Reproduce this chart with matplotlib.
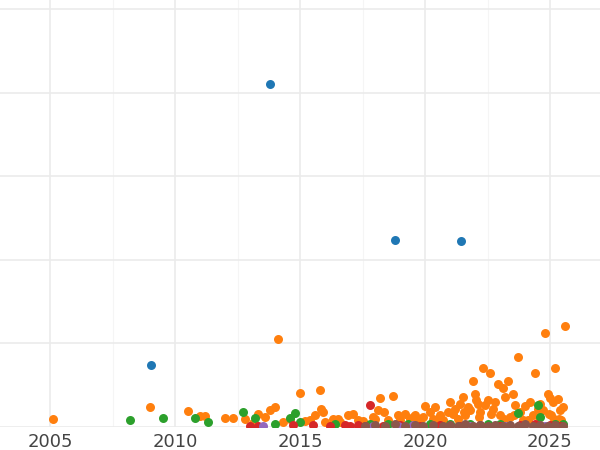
import matplotlib
matplotlib.use("Agg")
import matplotlib.pyplot as plt
from matplotlib.ticker import MultipleLocator, FuncFormatter

blue_x = [2013.8, 2018.8, 2021.45, 2009.05]
blue_y = [410, 224, 222, 74]

orange_x = [2005.1, 2009.0, 2010.5, 2011.0, 2011.2, 2012.0, 2012.3, 2012.8, 2013.3, 2013.6, 2013.8, 2014.0, 2014.1,
            2014.6, 2015.0, 2015.4, 2015.6, 2015.8, 2015.85, 2015.9, 2016.3, 2016.6, 2016.9, 2017.1, 2017.3,
            2017.9, 2018.1, 2018.2, 2018.35, 2018.7, 2018.9, 2019.2, 2019.5, 2019.8, 2020.0, 2020.2, 2020.4,
            2020.6, 2020.9, 2021.0, 2021.2, 2021.4, 2021.5, 2021.6, 2021.8, 2021.9, 2022.0, 2022.1, 2022.2,
            2022.3, 2022.5, 2022.6, 2022.7, 2022.9, 2023.0, 2023.1, 2023.2, 2023.3, 2023.5, 2023.7, 2023.8,
            2024.0, 2024.2, 2024.4, 2024.5, 2024.6, 2024.8, 2024.9, 2025.0, 2025.1, 2025.2, 2025.3, 2025.4,
            2025.5, 2025.6, 2019.0, 2020.5, 2021.1, 2022.4, 2023.4, 2024.7, 2025.05, 2023.9, 2022.8, 2021.7,
            2020.3, 2019.6, 2024.3, 2022.05, 2023.6, 2025.35, 2024.95,
            2016.0, 2016.5, 2017.5, 2018.0, 2018.5, 2019.4, 2019.9, 2020.7, 2021.3, 2021.55, 2022.15, 2022.65,
            2023.15, 2023.55, 2024.1, 2024.55, 2025.15, 2025.45, 2014.3, 2013.1, 2015.2]
orange_y = [10, 24, 19, 13, 13, 11, 11, 10, 16, 12, 20, 24, 105,
            10, 41, 8, 14, 44, 22, 18, 10, 6, 14, 15, 8,
            12, 20, 35, 18, 37, 14, 16, 12, 8, 25, 18, 24,
            14, 18, 30, 22, 28, 36, 14, 20, 55, 40, 28, 18,
            71, 32, 65, 22, 52, 14, 47, 36, 55, 40, 84, 18,
            25, 30, 65, 22, 28, 113, 40, 35, 30, 71, 34, 20,
            24, 121, 8, 10, 16, 26, 12, 20, 14, 8, 30, 24,
            10, 14, 14, 32, 26, 10, 16,
            6, 9, 7, 10, 8, 9, 12, 8, 10, 18, 12, 16,
            10, 14, 8, 12, 10, 8, 6, 5, 7]

green_x = [2008.2, 2009.5, 2010.8, 2011.3, 2012.7, 2013.2, 2014.0, 2014.6, 2014.8, 2015.0, 2016.4, 2017.8,
           2018.5, 2019.3, 2020.2, 2021.0, 2021.8, 2022.5, 2023.0, 2023.7, 2024.5, 2024.6, 2025.2, 2025.5]
green_y = [8, 11, 11, 6, 18, 11, 4, 11, 17, 6, 3, 4, 3, 4, 3, 4, 3, 4, 3, 17, 26, 12, 4, 3]

red_x = [2013.0, 2013.3, 2014.7, 2015.5, 2016.2, 2016.8, 2017.0, 2017.3, 2017.6, 2017.8, 2018.3, 2019.0,
         2019.8, 2020.6, 2021.4, 2022.2, 2023.0, 2023.8, 2024.4, 2025.0, 2025.4]
red_y = [1, 1, 2, 2, 1, 2, 1, 2, 1, 26, 1, 2, 1, 2, 1, 2, 1, 2, 3, 2, 1]

purple_x = [2013.5, 2017.9, 2018.9, 2019.5, 2021.8, 2023.2, 2024.8]
purple_y = [1, 1, 1, 2, 1, 1, 1]

brown_x = [2017.6, 2018.0, 2018.4, 2018.8, 2019.2, 2019.6, 2019.9, 2020.3, 2020.7, 2021.0, 2021.3, 2021.6,
           2021.9, 2022.2, 2022.5, 2022.8, 2023.1, 2023.4, 2023.7, 2024.0, 2024.3, 2024.6, 2024.9, 2025.2, 2025.5]
brown_y = [1, 2, 1, 3, 1, 2, 1, 2, 1, 2, 1, 3, 1, 2, 1, 2, 1, 2, 1, 3, 1, 2, 1, 2, 1]

fig = plt.figure(figsize=(6, 4.5), dpi=100)
ax = fig.add_axes([0, 23/450, 1, 1 - 23/450])
series = [(blue_x, blue_y, "#1f77b4"), (orange_x, orange_y, "#ff7f0e"), (green_x, green_y, "#2ca02c"),
          (red_x, red_y, "#d62728"), (purple_x, purple_y, "#9467bd"), (brown_x, brown_y, "#8c564b")]
for xs, ys, c in series:
    ax.scatter(xs, ys, s=42, color=c, linewidths=0, zorder=3)
ax.set_xlim(2003, 2027)
ax.set_ylim(0, 511)
ax.xaxis.set_major_locator(MultipleLocator(5))
ax.xaxis.set_minor_locator(MultipleLocator(2.5))
ax.xaxis.set_major_formatter(FuncFormatter(lambda v, p: f"{int(v)}"))
ax.yaxis.set_major_locator(MultipleLocator(100))
ax.set_yticklabels([])
ax.tick_params(axis="y", length=0)
ax.tick_params(axis="x", length=0, labelsize=13, labelcolor="#444444", pad=4)
ax.tick_params(axis="x", which="minor", length=0)
ax.grid(True, which="major", color="#ebebeb", linewidth=1.2)
ax.grid(True, which="minor", axis="x", color="#f5f5f5", linewidth=0.8)
ax.set_axisbelow(True)
for s in ax.spines.values():
    s.set_visible(False)
fig.savefig("out.png", dpi=100)
